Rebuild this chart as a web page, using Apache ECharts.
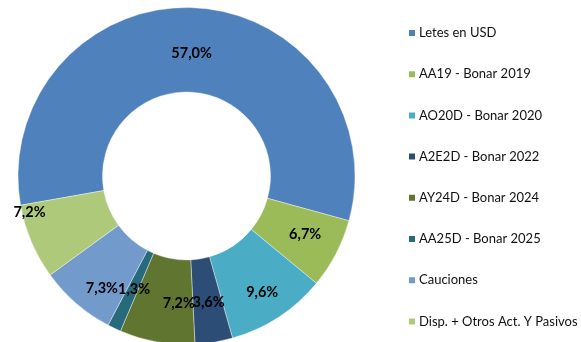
<!DOCTYPE html>
<html>
<head>
<meta charset="utf-8">
<style>
  html, body { margin: 0; padding: 0; background: #fff; }
  #chart { width: 581px; height: 342px; }
</style>
<script src="https://cdn.jsdelivr.net/npm/echarts@6/dist/echarts.min.js"></script>
</head>
<body>
<div id="chart"></div>
<script>
// Portfolio composition (% of total)
const categories = [
  'Letes en USD',
  'AA19 - Bonar 2019',
  'AO20D - Bonar 2020',
  'A2E2D - Bonar 2022',
  'AY24D - Bonar 2024',
  'AA25D - Bonar 2025',
  'Cauciones',
  'Disp. + Otros Act. Y Pasivos'
];
const shares = [57.0, 6.7, 9.6, 3.6, 7.2, 1.3, 7.3, 7.2];
const colors = ['#4F81BD', '#9BBB59', '#4BACC6', '#2C4D75', '#5F7530', '#276A7C', '#729ACA', '#AFC97A'];
// small nudges for a few slice labels [dx, dy]
const labelNudge = [[-1, 6], [4, -1], [5, 8], [1, -1], [15, 0], [3, -3], [0, 15], [-38, -14]];

const fmt = v => v.toFixed(1).replace('.', ',') + '%';

const chart = echarts.init(document.getElementById('chart'), null, { renderer: 'canvas' });
chart.setOption({
  animation: false,
  color: colors,
  legend: {
    orient: 'vertical',
    left: 402,
    top: 21,
    icon: 'rect',
    itemWidth: 8,
    itemHeight: 8,
    itemGap: 27.2,
    selectedMode: false,
    textStyle: { fontFamily: 'Lato', fontSize: 13, color: '#111', lineHeight: 14, padding: [0, 0, 0, -2] },
    data: categories
  },
  series: [{
    type: 'pie',
    center: [186.5, 176],
    radius: [84, 168.5],
    startAngle: 190,
    clockwise: true,
    avoidLabelOverlap: false,
    silent: true,
    itemStyle: { borderColor: '#ffffff', borderWidth: 0.4 },
    labelLayout: { hideOverlap: false },
    label: {
      show: true,
      position: 'inside',
      fontFamily: 'Lato',
      fontWeight: 'bold',
      fontSize: 14.5,
      color: '#000',
      formatter: p => fmt(p.value)
    },
    labelLine: { show: false },
    data: categories.map((name, i) => ({
      name,
      value: shares[i],
      label: { offset: labelNudge[i] }
    }))
  }]
});
</script>
</body>
</html>
